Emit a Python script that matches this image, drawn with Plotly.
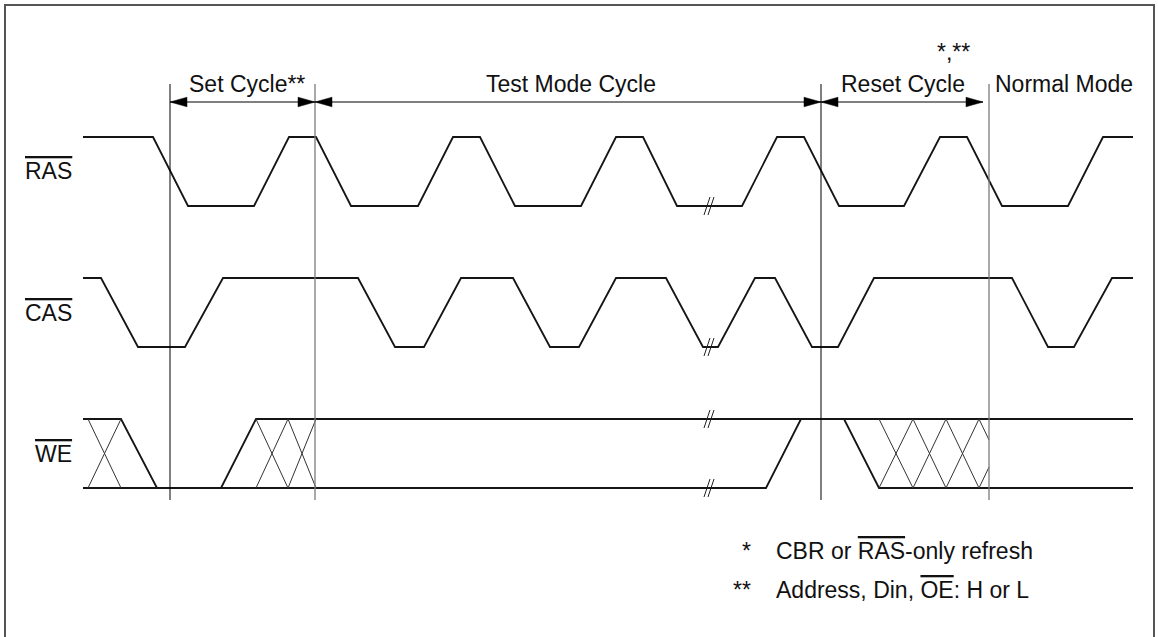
import plotly.graph_objects as go

W, H = 1158, 637

# ---- data (pixel-based timing units) ----
ROW_HIGH = {"RAS": 137, "CAS": 278, "WE": 419}
SWING = 69

RAS_T = [83, 153, 188, 254, 289, 316, 351, 418, 453, 480, 515, 581, 616, 643,
         677, 742, 777, 804, 839, 904, 940, 967, 1002, 1068, 1103, 1133]
RAS_V = [1, 1, 0, 0, 1, 1, 0, 0, 1, 1, 0, 0, 1, 1,
         0, 0, 1, 1, 0, 0, 1, 1, 0, 0, 1, 1]

CAS_T = [83, 101, 138, 185, 223, 358, 395, 424, 461, 513, 550, 579, 616, 666,
         703, 718, 755, 775, 812, 838, 874, 1012, 1048, 1074, 1112, 1133]
CAS_V = [1, 1, 0, 0, 1, 1, 0, 0, 1, 1, 0, 0, 1, 1,
         0, 0, 1, 1, 0, 0, 1, 1, 0, 0, 1, 1]

WE_SEG_T = [[83, 121, 157], [83, 766, 801], [221, 256, 1133], [844, 879, 1133]]
WE_SEG_V = [[1, 1, 0], [0, 0, 1], [0, 1, 1], [1, 0, 0]]

WE_X_START = [88, 256, 288, 879, 913, 946, 979]
WE_X_END = [121, 288, 316, 913, 946, 979, 1012]
WE_X_CLIP = 989

BOUNDARIES = [170, 315, 821, 989]
BOUNDARY_COLORS = ["#000000", "#7a7a7a", "#000000", "#7a7a7a"]
BOUNDARY_TOP, BOUNDARY_BOTTOM = 84, 500

ARROW_FROM = [170, 315, 821]
ARROW_TO = [315, 821, 983]
ARROW_Y = 102

PHASE_LABELS = ["Set Cycle**", "Test Mode Cycle", "Reset Cycle", "Normal Mode"]
PHASE_X = [247, 571, 903, 1064]
PHASE_BASE = 92

BREAK_X = 709
BREAK_ROWS = ["RAS", "CAS", "WE", "WE"]
BREAK_LEVELS = [0, 0, 1, 0]

SIGNALS = ["RAS", "CAS", "WE"]
SIGNAL_BASE = [179, 321, 462]

NOTE_MARKS = ["*", "**"]
NOTE_TEXTS = ['CBR or <span style="text-decoration:overline">RAS</span>-only refresh',
              'Address, Din, <span style="text-decoration:overline">OE</span>: H or L']
NOTE_BASE = [559, 598]

FONT = "Liberation Sans, Arial, Helvetica, sans-serif"
FS = 23


def lvl(row, v):
    return ROW_HIGH[row] + (1 - v) * SWING


fig = go.Figure()
LINE = dict(color="#151515", width=1.8)
THIN = dict(color="#333333", width=1)

# RAS and CAS
for name, T, V in [("RAS", RAS_T, RAS_V), ("CAS", CAS_T, CAS_V)]:
    fig.add_trace(go.Scatter(x=T, y=[lvl(name, v) for v in V], mode="lines",
                             line=LINE, hoverinfo="skip"))

# WE valid segments
xs, ys = [], []
for T, V in zip(WE_SEG_T, WE_SEG_V):
    xs += T + [None]
    ys += [lvl("WE", v) for v in V] + [None]
fig.add_trace(go.Scatter(x=xs, y=ys, mode="lines", line=LINE, hoverinfo="skip"))

# WE don't-care crossings
xs, ys = [], []
hi, lo = lvl("WE", 1), lvl("WE", 0)
for a, b in zip(WE_X_START, WE_X_END):
    for y0, y1 in [(hi, lo), (lo, hi)]:
        xe, ye = b, y1
        if b > WE_X_CLIP:
            xe = WE_X_CLIP
            ye = y0 + (y1 - y0) * (WE_X_CLIP - a) / (b - a)
        xs += [a, xe, None]
        ys += [y0, ye, None]
fig.add_trace(go.Scatter(x=xs, y=ys, mode="lines", line=THIN, hoverinfo="skip"))

# phase boundaries
for bx, c in zip(BOUNDARIES, BOUNDARY_COLORS):
    fig.add_trace(go.Scatter(x=[bx, bx], y=[BOUNDARY_TOP, BOUNDARY_BOTTOM], mode="lines",
                             line=dict(color=c, width=1.3 if c != "#000000" else 1),
                             hoverinfo="skip"))

# arrows
HL, HW = 17, 4.8
for a, b in zip(ARROW_FROM, ARROW_TO):
    fig.add_trace(go.Scatter(x=[a, b], y=[ARROW_Y, ARROW_Y], mode="lines",
                             line=dict(color="#000", width=1), hoverinfo="skip"))
    for tip, d in [(a, 1), (b, -1)]:
        fig.add_trace(go.Scatter(x=[tip, tip + d * HL, tip + d * HL, tip],
                                 y=[ARROW_Y, ARROW_Y - HW, ARROW_Y + HW, ARROW_Y],
                                 mode="lines", fill="toself", fillcolor="#000",
                                 line=dict(color="#000", width=0.5), hoverinfo="skip"))

# break marks
xs, ys = [], []
for row, v in zip(BREAK_ROWS, BREAK_LEVELS):
    yc = lvl(row, v)
    for off in (-2, 2):
        xs += [BREAK_X + off - 3, BREAK_X + off + 3, None]
        ys += [yc + 9, yc - 9, None]
fig.add_trace(go.Scatter(x=xs, y=ys, mode="lines", line=dict(color="#222", width=1),
                         hoverinfo="skip"))

ann = []
DY = 7.9  # baseline -> box centre
for t, x in zip(PHASE_LABELS, PHASE_X):
    ann.append(dict(x=x, y=PHASE_BASE - DY, text=t, xanchor="center", yanchor="middle"))
ann.append(dict(x=953, y=60 - DY, text="*,**", xanchor="center", yanchor="middle"))
for s, b in zip(SIGNALS, SIGNAL_BASE):
    ann.append(dict(x=73, y=b - DY, text='<span style="text-decoration:overline">%s</span>' % s,
                    xanchor="right", yanchor="middle"))
for m, t, b in zip(NOTE_MARKS, NOTE_TEXTS, NOTE_BASE):
    ann.append(dict(x=752, y=b - DY, text=m, xanchor="right", yanchor="middle"))
    ann.append(dict(x=775, y=b - DY, text=t, xanchor="left", yanchor="middle"))
for a in ann:
    a.update(xref="x", yref="y", showarrow=False, borderpad=0,
             font=dict(family=FONT, size=FS, color="#111"))

fig.update_layout(
    width=W, height=H, margin=dict(l=0, r=0, t=0, b=0),
    paper_bgcolor="white", plot_bgcolor="white", showlegend=False,
    xaxis=dict(range=[0, W], visible=False, fixedrange=True),
    yaxis=dict(range=[H, 0], visible=False, fixedrange=True),
    annotations=ann,
    shapes=[dict(type="rect", xref="x", yref="y", x0=5, y0=5, x1=1154, y1=642,
                 line=dict(color="#555", width=2))],
)
fig.write_html("out.html", config={"displayModeBar": False},
               post_script="document.body.style.margin='0';document.body.style.overflow='hidden';")
